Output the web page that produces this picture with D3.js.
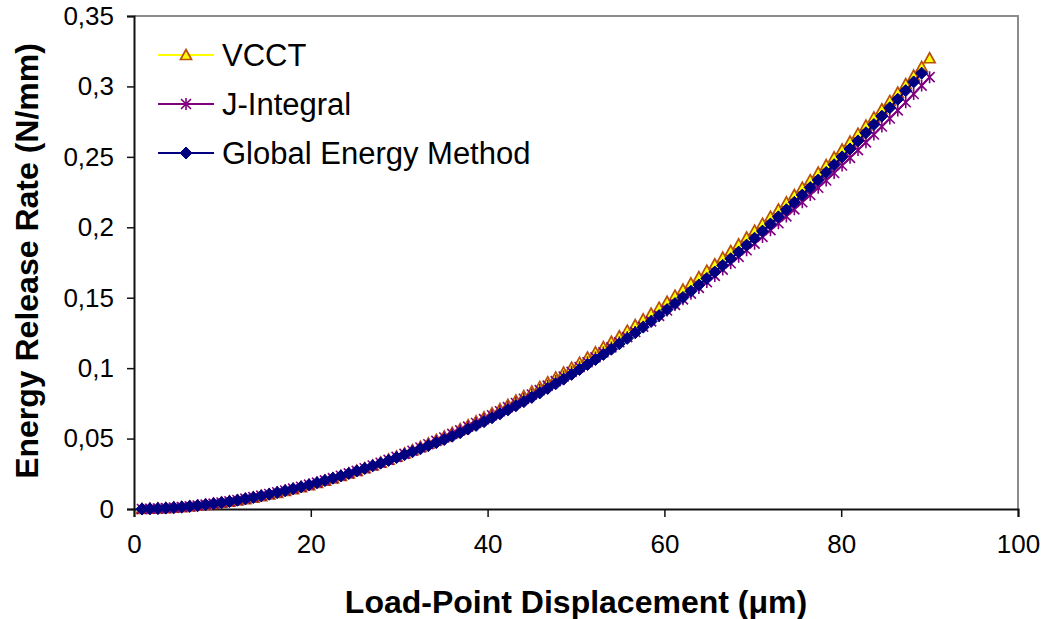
<!DOCTYPE html>
<html>
<head>
<meta charset="utf-8">
<script src="https://cdn.jsdelivr.net/npm/d3@7/dist/d3.min.js"></script>
<style>
  html, body { margin: 0; padding: 0; background: #fff; }
  svg { display: block; font-family: "Liberation Sans", Arial, sans-serif; }
</style>
</head>
<body>
<svg id="chart" width="1042" height="619"></svg>
<script>
// Load-point displacement (µm) for each analysis increment
const displacement = [
  0.9,1.8,2.7,3.6,4.5,5.4,6.3,7.2,8.1,9,
  9.9,10.8,11.7,12.6,13.5,14.4,15.3,16.2,17.1,18,
  18.9,19.8,20.7,21.6,22.5,23.4,24.3,25.2,26.1,27,
  27.9,28.8,29.7,30.6,31.5,32.4,33.3,34.2,35.1,36,
  36.9,37.8,38.7,39.6,40.5,41.4,42.3,43.2,44.1,45,
  45.9,46.8,47.7,48.6,49.5,50.4,51.3,52.2,53.1,54,
  54.9,55.8,56.7,57.6,58.5,59.4,60.3,61.2,62.1,63,
  63.9,64.8,65.7,66.6,67.5,68.4,69.3,70.2,71.1,72,
  72.9,73.8,74.7,75.6,76.5,77.4,78.3,79.2,80.1,81,
  81.9,82.8,83.7,84.6,85.5,86.4,87.3,88.2,89.1,90
];

// Energy release rate (N/mm), virtual crack closure technique
const vcct = [
  0.00004,0.00016,0.00036,0.00062,0.00096,0.00136,0.00184,0.00238,0.00299,0.00367,
  0.00442,0.00523,0.00611,0.00706,0.00807,0.00915,0.01029,0.01150,0.01277,0.01410,
  0.01550,0.01696,0.01849,0.02008,0.02173,0.02345,0.02524,0.02708,0.02899,0.03095,
  0.03299,0.03509,0.03724,0.03947,0.04175,0.04410,0.04651,0.04898,0.05150,0.05410,
  0.05675,0.05948,0.06226,0.06509,0.06798,0.07095,0.07398,0.07705,0.08019,0.08340,
  0.08667,0.08999,0.09340,0.09684,0.10034,0.10390,0.10754,0.11121,0.11498,0.11876,
  0.12264,0.12658,0.13058,0.13464,0.13875,0.14292,0.14715,0.15144,0.15578,0.16018,
  0.16464,0.16921,0.17378,0.17846,0.18315,0.18789,0.19275,0.19761,0.20258,0.20755,
  0.21264,0.21772,0.22293,0.22812,0.23344,0.23882,0.24418,0.24967,0.25522,0.26082,
  0.26648,0.27220,0.27798,0.28381,0.28970,0.29565,0.30165,0.30771,0.31383,0.32000
];

// Energy release rate (N/mm), J-integral
const jIntegral = [
  0.00004,0.00017,0.00037,0.00064,0.00100,0.00141,0.00191,0.00248,0.00311,0.00382,
  0.00460,0.00544,0.00635,0.00734,0.00839,0.00949,0.01064,0.01185,0.01312,0.01445,
  0.01583,0.01727,0.01877,0.02033,0.02193,0.02360,0.02532,0.02708,0.02895,0.03087,
  0.03287,0.03491,0.03701,0.03917,0.04138,0.04366,0.04599,0.04837,0.05079,0.05329,
  0.05583,0.05844,0.06109,0.06379,0.06656,0.06940,0.07231,0.07524,0.07823,0.08129,
  0.08440,0.08755,0.09079,0.09405,0.09736,0.10072,0.10415,0.10761,0.11116,0.11471,
  0.11835,0.12200,0.12570,0.12946,0.13324,0.13707,0.14095,0.14488,0.14886,0.15288,
  0.15694,0.16109,0.16547,0.16996,0.17447,0.17903,0.18371,0.18838,0.19316,0.19794,
  0.20284,0.20773,0.21276,0.21776,0.22289,0.22807,0.23324,0.23853,0.24389,0.24932,
  0.25478,0.26031,0.26589,0.27152,0.27721,0.28297,0.28880,0.29466,0.30059,0.30656
];

// Energy release rate (N/mm), global energy method (one fewer increment)
const globalEnergy = [
  0.00004,0.00016,0.00037,0.00063,0.00098,0.00139,0.00188,0.00243,0.00305,0.00374,
  0.00451,0.00533,0.00623,0.00720,0.00823,0.00933,0.01050,0.01173,0.01303,0.01438,
  0.01576,0.01720,0.01869,0.02024,0.02184,0.02350,0.02521,0.02697,0.02879,0.03064,
  0.03254,0.03449,0.03648,0.03852,0.04060,0.04273,0.04491,0.04712,0.04936,0.05167,
  0.05417,0.05674,0.05936,0.06203,0.06475,0.06754,0.07039,0.07327,0.07622,0.07923,
  0.08238,0.08558,0.08887,0.09219,0.09557,0.09902,0.10254,0.10609,0.10975,0.11342,
  0.11724,0.12114,0.12510,0.12912,0.13320,0.13735,0.14156,0.14584,0.15017,0.15457,
  0.15904,0.16363,0.16822,0.17293,0.17766,0.18244,0.18735,0.19227,0.19731,0.20236,
  0.20743,0.21249,0.21769,0.22287,0.22819,0.23357,0.23893,0.24443,0.24999,0.25560,
  0.26134,0.26711,0.27298,0.27890,0.28486,0.29092,0.29704,0.30319,0.30944
];

const seriesNames = ["VCCT", "J-Integral", "Global Energy Method"];

const xTicks = [0, 20, 40, 60, 80, 100];
const xTickLabels = ["0", "20", "40", "60", "80", "100"];
const yTicks = [0, 0.05, 0.1, 0.15, 0.2, 0.25, 0.3, 0.35];
const yTickLabels = ["0", "0,05", "0,1", "0,15", "0,2", "0,25", "0,3", "0,35"];

const xTitle = "Load-Point Displacement (\u03BCm)";
const yTitle = "Energy Release Rate (N/mm)";

// ---- layout ----
const plot = { left: 134, right: 1018, top: 16, bottom: 509 };
const svg = d3.select("#chart");

const x = d3.scaleLinear().domain([0, 100]).range([plot.left, plot.right]);
const y = d3.scaleLinear().domain([0, 0.35]).range([plot.bottom, plot.top]);

// plot-area frame: grey on top and right, axes drawn on left and bottom
svg.append("path")
  .attr("d", `M${plot.left},${plot.top}H${plot.right}V${plot.bottom}`)
  .attr("fill", "none").attr("stroke", "#8c8c8c").attr("stroke-width", 2);

// axes
const tickFont = 26;
const yAxis = d3.axisLeft(y).tickValues(yTicks)
  .tickFormat((d, i) => yTickLabels[i]).tickSize(7).tickPadding(13);
const xAxis = d3.axisBottom(x).tickValues(xTicks)
  .tickFormat((d, i) => xTickLabels[i]).tickSize(8).tickPadding(18);

const gy = svg.append("g").attr("transform", `translate(${plot.left},0)`).call(yAxis);
const gx = svg.append("g").attr("transform", `translate(0,${plot.bottom})`).call(xAxis);
[gx, gy].forEach(g => {
  g.select(".domain").attr("stroke", "#111").attr("stroke-width", 2);
  g.selectAll(".tick line").attr("stroke", "#111").attr("stroke-width", 1.5);
  g.selectAll(".tick text").attr("fill", "#000")
    .style("font-family", "'Liberation Sans', Arial, sans-serif")
    .style("font-size", tickFont + "px");
});

// axis titles
svg.append("text")
  .attr("x", 576).attr("y", 613)
  .attr("text-anchor", "middle")
  .style("font-size", "32px").style("font-weight", "bold")
  .text(xTitle);
svg.append("text")
  .attr("transform", `translate(38,261) rotate(-90)`)
  .attr("text-anchor", "middle")
  .style("font-size", "32px").style("font-weight", "bold")
  .text(yTitle);

// ---- markers ----
const triPath = "M0,-5.5L5.5,4.5L-5.5,4.5Z";
const diaPath = "M0,-6L6,0L0,6L-6,0Z";
const starPath = "M-5,-5L5,5M-5,5L5,-5M0,-6L0,6";

const styles = [
  { line: "#FFFF00", path: triPath, fill: "#FFFF00", stroke: "#B8500A", sw: 1.7 },
  { line: "#800080", path: starPath, fill: "none", stroke: "#800080", sw: 1.6 },
  { line: "#000080", path: diaPath, fill: "#000080", stroke: "#000080", sw: 1 }
];

const seriesData = [vcct, jIntegral, globalEnergy].map(vals =>
  vals.map((v, i) => ({ x: displacement[i], y: v })));

const line = d3.line().x(d => x(d.x)).y(d => y(d.y));

seriesData.forEach((data, si) => {
  const st = styles[si];
  const g = svg.append("g");
  g.append("path").datum(data)
    .attr("d", line).attr("fill", "none")
    .attr("stroke", st.line).attr("stroke-width", 2);
  g.selectAll("path.m").data(data).join("path")
    .attr("class", "m")
    .attr("transform", d => `translate(${x(d.x)},${y(d.y)})`)
    .attr("d", st.path)
    .attr("fill", st.fill).attr("stroke", st.stroke)
    .attr("stroke-width", st.sw).attr("stroke-linejoin", "miter");
});

// ---- legend ----
const legend = svg.append("g");
const legendRows = [55, 104, 153];
seriesNames.forEach((name, i) => {
  const st = styles[i];
  const ly = legendRows[i];
  legend.append("line")
    .attr("x1", 158).attr("x2", 214).attr("y1", ly).attr("y2", ly)
    .attr("stroke", st.line).attr("stroke-width", 2);
  legend.append("path")
    .attr("transform", `translate(186,${ly})`)
    .attr("d", st.path)
    .attr("fill", st.fill).attr("stroke", st.stroke).attr("stroke-width", st.sw);
  legend.append("text")
    .attr("x", 222).attr("y", ly + 11)
    .style("font-size", "31px")
    .text(name);
});
</script>
</body>
</html>
